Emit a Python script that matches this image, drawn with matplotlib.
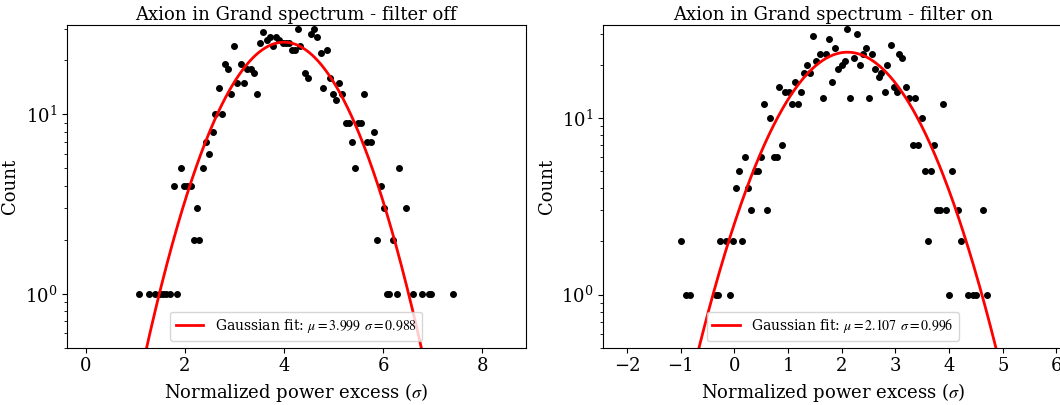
import numpy as np
import matplotlib
matplotlib.use("Agg")
import matplotlib.pyplot as plt

plt.rcParams['font.family'] = 'DejaVu Serif'
plt.rcParams['mathtext.fontset'] = 'stix'
plt.rcParams['font.size'] = 13

# histogram bin centres and counts (filter off)
off_x = [1.08, 1.28, 1.41, 1.50, 1.57, 1.63, 1.71, 1.85, 1.78, 1.92, 1.98, 2.05,
         2.12, 2.18, 2.24, 2.29, 2.37, 2.43, 2.49, 2.56, 2.61, 2.68, 2.75, 2.81,
         2.88, 2.94, 3.00, 3.06, 3.13, 3.19, 3.25, 3.33, 3.39, 3.45, 3.52, 3.58,
         3.65, 3.72, 3.77, 3.84, 3.89, 3.97, 4.04, 4.11, 4.17, 4.23, 4.28, 4.33,
         4.42, 4.48, 4.54, 4.61, 4.67, 4.74, 4.79, 4.86, 4.93, 4.99, 5.05, 5.11,
         5.17, 5.24, 5.31, 5.37, 5.43, 5.50, 5.56, 5.62, 5.68, 5.75, 5.82, 5.88,
         5.95, 6.01, 6.07, 6.12, 6.20, 6.27, 6.32, 6.46, 6.59, 6.78, 6.92, 6.97,
         7.41]
off_n = [1, 1, 1, 1, 1, 1, 1, 1, 4, 5, 4, 4,
         4, 2, 3, 2, 5, 7, 6, 8, 10, 14, 10, 19,
         18, 13, 24, 15, 19, 15, 18, 18, 17, 13, 25, 29,
         26, 27, 24, 27, 26, 25, 25, 25, 23, 23, 30, 24,
         17, 16, 28, 30, 27, 22, 14, 23, 16, 13, 12, 15,
         13, 9, 9, 7, 5, 9, 9, 13, 7, 7, 8, 2,
         4, 3, 1, 1, 2, 1, 5, 3, 1, 1, 1, 1,
         1]

# filter on
on_x = [-1.00, -0.90, -0.83, -0.34, -0.30, -0.26, -0.15, -0.08, -0.03, 0.03, 0.09,
        0.14, 0.20, 0.26, 0.31, 0.39, 0.44, 0.49, 0.55, 0.61, 0.66, 0.74, 0.80,
        0.84, 0.89, 0.95, 1.01, 1.08, 1.13, 1.19, 1.24, 1.30, 1.36, 1.41, 1.47,
        1.53, 1.59, 1.65, 1.70, 1.76, 1.82, 1.88, 1.93, 2.00, 2.06, 2.10, 2.16,
        2.22, 2.28, 2.34, 2.40, 2.45, 2.51, 2.57, 2.62, 2.69, 2.73, 2.80, 2.85,
        2.91, 2.98, 3.03, 3.07, 3.13, 3.20, 3.26, 3.33, 3.37, 3.43, 3.49, 3.55,
        3.60, 3.66, 3.72, 3.77, 3.83, 3.89, 3.95, 4.00, 4.06, 4.17, 4.23, 4.35,
        4.44, 4.50, 4.64, 4.70]
on_n = [2, 1, 1, 1, 1, 2, 2, 1, 2, 4, 5,
        2, 6, 4, 3, 5, 5, 6, 12, 3, 10, 6, 6,
        15, 7, 14, 14, 12, 16, 12, 14, 18, 20, 18, 29,
        21, 23, 13, 23, 28, 16, 25, 19, 20, 21, 32, 13,
        22, 30, 20, 23, 25, 13, 23, 19, 17, 18, 14, 20,
        26, 15, 14, 23, 22, 15, 13, 7, 13, 7, 10, 5,
        2, 5, 7, 3, 3, 12, 3, 1, 5, 3, 2, 1,
        1, 1, 3, 1]

# gaussian fit parameters (amplitude, mu, sigma)
off_fit = (25.3, 3.999, 0.988)
on_fit = (23.6, 2.107, 0.996)

titles = ['Axion in Grand spectrum - filter off', 'Axion in Grand spectrum - filter on']


def gauss(x, a, mu, sig):
    return a * np.exp(-(x - mu) ** 2 / (2 * sig ** 2))


def panel(ax, x, n, fit, title, xlim, xticks):
    ax.plot(x, n, 'o', color='black', markersize=4)
    xx = np.linspace(xlim[0], xlim[1], 500)
    a, mu, sig = fit
    ax.plot(xx, gauss(xx, a, mu, sig), color='red', lw=2,
            label=r'Gaussian fit: $\mu=%.3f$ $\sigma=%.3f$' % (mu, sig))
    ax.set_yscale('log')
    ax.set_ylim(0.5, max(n) * 1.05)
    ax.set_xlim(*xlim)
    ax.set_xticks(xticks)
    ax.set_title(title, fontsize=13, pad=4)
    ax.set_xlabel(r'Normalized power excess ($\sigma$)')
    ax.set_ylabel('Count')
    ax.legend(loc='lower center', fontsize=10, handlelength=2.0)


def main():
    fig = plt.figure(figsize=(10.6, 4.05), dpi=100)
    ax1 = fig.add_axes([0.0629, 0.1415, 0.433, 0.7965])
    ax2 = fig.add_axes([0.5692, 0.1415, 0.433, 0.7965])
    panel(ax1, off_x, off_n, off_fit, titles[0], (-0.38, 8.87), [0, 2, 4, 6, 8])
    panel(ax2, on_x, on_n, on_fit, titles[1], (-2.44, 6.11), [-2, -1, 0, 1, 2, 3, 4, 5, 6])
    fig.savefig('out.png', dpi=100)


if __name__ == "__main__":
    main()
